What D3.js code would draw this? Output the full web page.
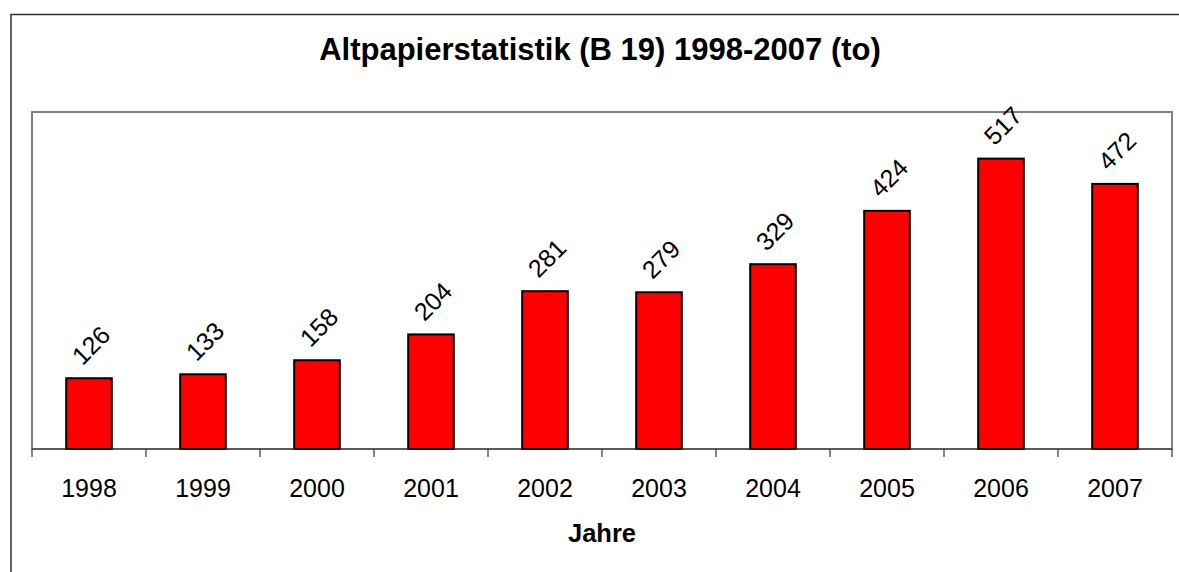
<!DOCTYPE html>
<html>
<head>
<meta charset="utf-8">
<script src="https://cdn.jsdelivr.net/npm/d3@7/dist/d3.min.js"></script>
<style>
  html, body { margin: 0; padding: 0; background: #fff; }
  svg { display: block; font-family: "Liberation Sans", Arial, Helvetica, sans-serif; }
</style>
</head>
<body>
<svg id="chart" width="1179" height="572"></svg>
<script>
// Collected waste paper per year, in tonnes
const years = ["1998", "1999", "2000", "2001", "2002", "2003", "2004", "2005", "2006", "2007"];
const tonnes = [126, 133, 158, 204, 281, 279, 329, 424, 517, 472];
const yDomain = [0, 600];
const titleText = "Altpapierstatistik (B 19) 1998-2007 (to)";
const xAxisTitle = "Jahre";

const data = years.map((y, i) => ({ year: y, value: tonnes[i] }));

const W = 1179, H = 572;
const plot = { left: 32, top: 112, right: 1172, bottom: 449 };

const svg = d3.select("#chart");

svg.append("rect").attr("width", W).attr("height", H).attr("fill", "#fff");

// Outer chart frame (runs off the right and bottom edges)
svg.append("rect")
  .attr("x", 11).attr("y", 14.5)
  .attr("width", 1200).attr("height", 600)
  .attr("fill", "none")
  .attr("stroke", "#333")
  .attr("stroke-width", 1.5);

const x = d3.scaleBand()
  .domain(years)
  .range([plot.left, plot.right])
  .paddingInner(0.6)
  .paddingOuter(0.3);

const y = d3.scaleLinear()
  .domain(yDomain)
  .range([plot.bottom, plot.top]);

// Plot area border
svg.append("rect")
  .attr("x", plot.left).attr("y", plot.top)
  .attr("width", plot.right - plot.left)
  .attr("height", plot.bottom - plot.top)
  .attr("fill", "none")
  .attr("stroke", "#808080")
  .attr("stroke-width", 2);

// Bars
svg.append("g")
  .selectAll("rect")
  .data(data)
  .join("rect")
  .attr("x", d => x(d.year))
  .attr("y", d => y(d.value))
  .attr("width", x.bandwidth())
  .attr("height", d => y(0) - y(d.value))
  .attr("fill", "#ff0000")
  .attr("stroke", "#000")
  .attr("stroke-width", 2);

// Category axis: line, boundary ticks and year labels
const step = x.step();
const start = x(years[0]) - step * x.paddingOuter();
const axis = svg.append("g");
axis.append("line")
  .attr("x1", plot.left).attr("x2", plot.right)
  .attr("y1", y(0)).attr("y2", y(0))
  .attr("stroke", "#333").attr("stroke-width", 1.2);
axis.selectAll("line.tick")
  .data(d3.range(years.length + 1))
  .join("line")
  .attr("class", "tick")
  .attr("x1", i => start + i * step).attr("x2", i => start + i * step)
  .attr("y1", y(0)).attr("y2", y(0) + 8)
  .attr("stroke", "#333").attr("stroke-width", 1.2);
axis.selectAll("text")
  .data(years)
  .join("text")
  .attr("x", d => x(d) + x.bandwidth() / 2)
  .attr("y", y(0) + 48)
  .attr("text-anchor", "middle")
  .attr("font-size", 25)
  .attr("fill", "#000")
  .text(d => d);

// Rotated value labels above the bars
svg.append("g")
  .selectAll("text")
  .data(data)
  .join("text")
  .attr("transform", d => `translate(${x(d.year) + x.bandwidth() / 2 + 2},${y(d.value) - 33}) rotate(-45)`)
  .attr("text-anchor", "middle")
  .attr("dy", "0.35em")
  .attr("font-size", 25)
  .attr("fill", "#000")
  .text(d => d.value);

// Title and axis title
svg.append("text")
  .attr("x", (plot.left + plot.right) / 2 - 2)
  .attr("y", 60)
  .attr("text-anchor", "middle")
  .attr("font-size", 31)
  .attr("font-weight", "bold")
  .text(titleText);

svg.append("text")
  .attr("x", (plot.left + plot.right) / 2)
  .attr("y", 542)
  .attr("text-anchor", "middle")
  .attr("font-size", 25.5)
  .attr("font-weight", "bold")
  .text(xAxisTitle);
</script>
</body>
</html>
